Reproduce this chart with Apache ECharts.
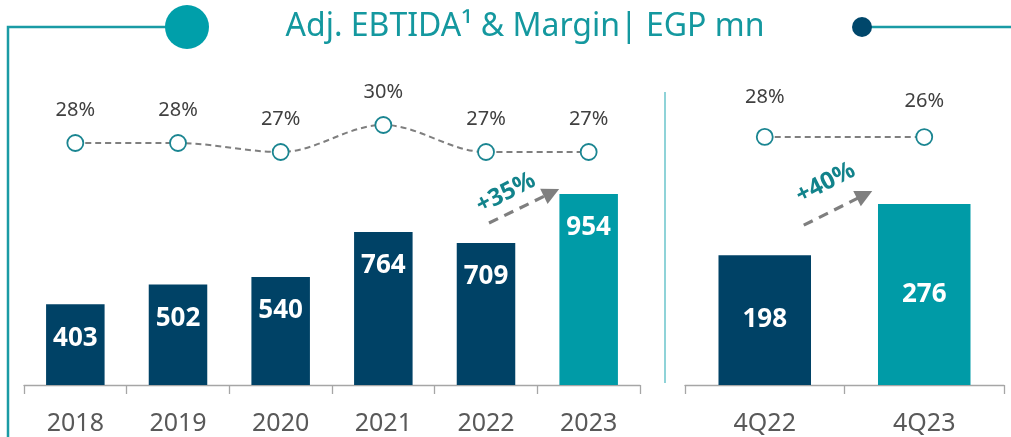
<!DOCTYPE html>
<html><head><meta charset="utf-8">
<script src="https://cdn.jsdelivr.net/npm/echarts@6/dist/echarts.min.js"></script>
<style>html,body{margin:0;padding:0;background:#fff}#c{width:1011px;height:437px}</style>
</head><body><div id="c"></div>
<script>
const annualCats = ['2018','2019','2020','2021','2022','2023'];
const annualEbitda = [403,502,540,764,709,954];
const annualMargin = [28,28,27,30,27,27];
const quarterCats = ['4Q22','4Q23'];
const quarterEbitda = [198,276];
const quarterMargin = [28,26];
const growthLabels = ['+35%','+40%'];

const NAVY = '#004266', TEAL = '#009ba7', FRAME = '#1a9ba5';
const FONT = 'Noto Sans';

function barData(vals){
  return vals.map((v,i)=>({value:v, itemStyle:{color: i===vals.length-1?TEAL:NAVY}}));
}
const xAxisCommon = {
  type:'category',
  axisLine:{lineStyle:{color:'#a6a6a6',width:1.3}},
  axisTick:{show:true,length:9,lineStyle:{color:'#a6a6a6',width:1.3}},
  axisLabel:{color:'#595959',fontSize:25,fontFamily:FONT,margin:26}
};
const hiddenY = {type:'value', show:false, splitLine:{show:false}};
const lineCommon = {
  type:'line', symbol:'circle', symbolSize:16, z:5,
  itemStyle:{color:'#ffffff', borderColor:'#1a8591', borderWidth:1.8},
  lineStyle:{color:'#7f7f7f', width:2, type:[6,4]},
  label:{show:true, position:'top', color:'#404040', fontSize:20, fontFamily:FONT, formatter: p=>p.value+'%'}
};

const chart = echarts.init(document.getElementById('c'), null, {renderer:'canvas'});
const option = {
  animation:false,
  backgroundColor:'#ffffff',
  grid:[
    {left:24, top:100, width:616, bottom:52},
    {left:685, top:100, width:319, bottom:52}
  ],
  xAxis:[
    Object.assign({gridIndex:0, data:annualCats}, xAxisCommon),
    Object.assign({gridIndex:1, data:quarterCats}, xAxisCommon)
  ],
  yAxis:[
    Object.assign({gridIndex:0, min:0, max:1423.4}, hiddenY),
    Object.assign({gridIndex:0, min:1.111, max:32.778}, hiddenY),
    Object.assign({gridIndex:1, min:0, max:434.6}, hiddenY),
    Object.assign({gridIndex:1, min:-3000, max:478.5}, hiddenY)
  ],
  series:[
    {type:'bar', xAxisIndex:0, yAxisIndex:0, data:barData(annualEbitda), barWidth:'57%',
     label:{show:true, position:'insideTop', distance:21, color:'#ffffff', fontSize:26, fontWeight:'bold', fontFamily:FONT}},
    {type:'bar', xAxisIndex:1, yAxisIndex:2, data:barData(quarterEbitda), barWidth:'58%',
     label:{show:true, position:'inside', color:'#ffffff', fontSize:26, fontWeight:'bold', fontFamily:FONT}},
    Object.assign({}, lineCommon, {xAxisIndex:0, yAxisIndex:1, data:annualMargin, smooth:0.35,
      label:Object.assign({}, lineCommon.label, {distance:14})}),
    Object.assign({}, lineCommon, {xAxisIndex:1, yAxisIndex:3,
      data:quarterMargin.map((v,i)=>({value:v, label:{distance: i===0?21:17}})),
      label:Object.assign({}, lineCommon.label)})
  ]
};
chart.setOption(option);

// annotations positioned from the data through the axes
function px(xi, yi, cat, val){ return chart.convertToPixel({xAxisIndex:xi, yAxisIndex:yi}, [cat, val]); }
function arrow(start, tip, color){
  const dx = tip[0]-start[0], dy = tip[1]-start[1];
  const len = Math.hypot(dx,dy), ux = dx/len, uy = dy/len;
  const hl = 17, hw = 8.5;
  const base = [tip[0]-ux*hl, tip[1]-uy*hl];
  return [
    {type:'line', shape:{x1:start[0], y1:start[1], x2:base[0]+ux*2, y2:base[1]+uy*2},
     style:{stroke:color, lineWidth:3.2, lineDash:[10,7]}},
    {type:'polygon', shape:{points:[tip,[base[0]-uy*hw, base[1]+ux*hw],[base[0]+uy*hw, base[1]-ux*hw]]},
     style:{fill:color}}
  ];
}
const bwL = 59, bwR = 92;
const a22 = px(0,0,'2022',annualEbitda[4]), a23 = px(0,0,'2023',annualEbitda[5]);
const q22 = px(1,2,'4Q22',quarterEbitda[0]), q23 = px(1,2,'4Q23',quarterEbitda[1]);
const s1 = [a22[0]+3, a22[1]-20], t1 = [a23[0]-bwL/2, a23[1]-5];
const s2 = [q22[0]+bwR/2-7, q22[1]-30], t2 = [q23[0]-bwR/2-6, q23[1]-13];

const graphics = [
  {type:'polyline', shape:{points:[[8,437],[8,27],[168,27]]}, style:{stroke:FRAME, lineWidth:2.5, fill:null}},
  {type:'circle', shape:{cx:187, cy:27, r:22}, style:{fill:'#009faa'}},
  {type:'line', shape:{x1:868, y1:27, x2:1011, y2:27}, style:{stroke:FRAME, lineWidth:2.5}},
  {type:'circle', shape:{cx:862, cy:27, r:10}, style:{fill:'#00476b'}},
  {type:'line', shape:{x1:665, y1:92, x2:665, y2:383}, style:{stroke:'#8fd3d8', lineWidth:2}},
  {type:'text', x:525, y:27, style:{text:'Adj. EBTIDA\u00b9 & Margin| EGP mn', fill:'#14989f', font:'32px "Noto Sans"', textAlign:'center', textVerticalAlign:'middle'}},
  ...arrow(s1, t1, '#7f7f7f'),
  ...arrow(s2, t2, '#7f7f7f'),
  {type:'text', x:s1[0]+17, y:s1[1]-30, rotation:0.47, style:{text:growthLabels[0], fill:'#12838b', font:'bold 24px "Noto Sans"', textAlign:'center', textVerticalAlign:'middle'}},
  {type:'text', x:s2[0]+22, y:s2[1]-42, rotation:0.47, style:{text:growthLabels[1], fill:'#12838b', font:'bold 24px "Noto Sans"', textAlign:'center', textVerticalAlign:'middle'}}
];
chart.setOption({graphic:{elements:graphics}});
</script>
</body></html>
